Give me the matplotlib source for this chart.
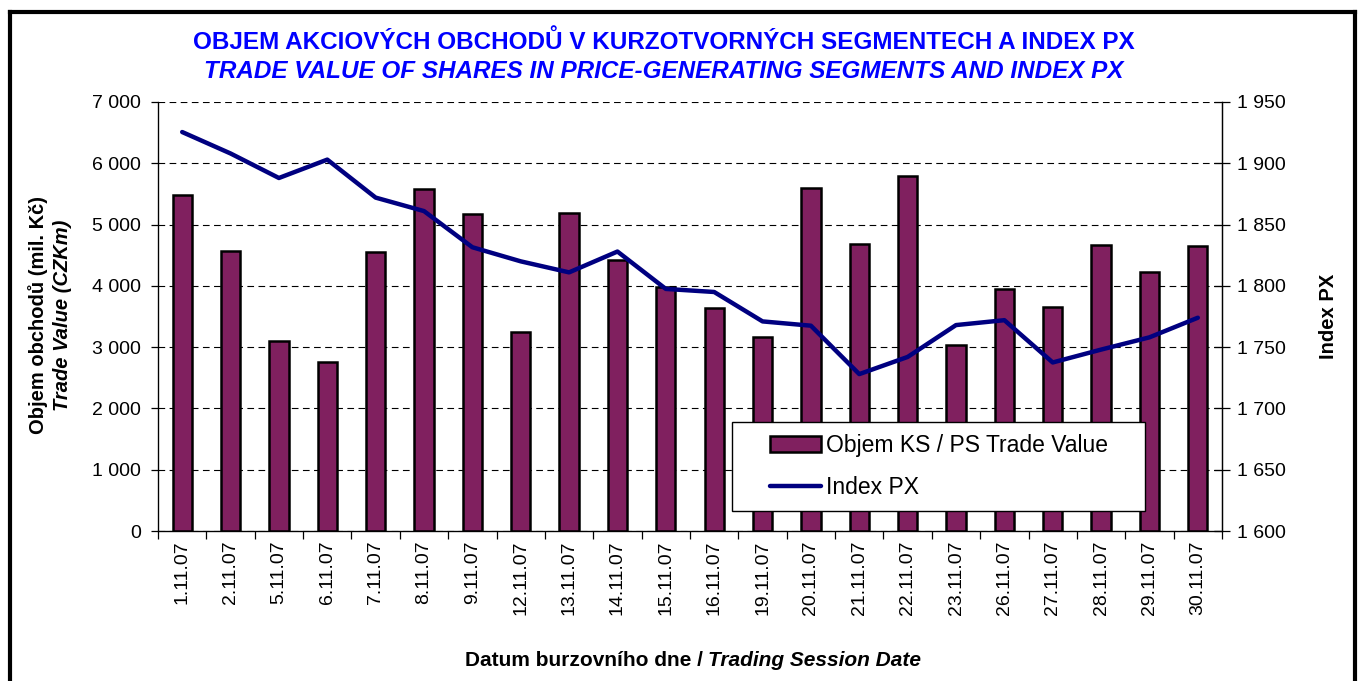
import matplotlib
matplotlib.use('Agg')
import matplotlib.pyplot as plt
from matplotlib.patches import Rectangle, Patch
from matplotlib.lines import Line2D
from matplotlib.ticker import FuncFormatter
import numpy as np

plt.rcParams['font.family'] = ['Liberation Sans', 'DejaVu Sans']

dates = ['1.11.07', '2.11.07', '5.11.07', '6.11.07', '7.11.07', '8.11.07', '9.11.07',
         '12.11.07', '13.11.07', '14.11.07', '15.11.07', '16.11.07', '19.11.07', '20.11.07',
         '21.11.07', '22.11.07', '23.11.07', '26.11.07', '27.11.07', '28.11.07', '29.11.07',
         '30.11.07']
trade_value = [5480, 4570, 3100, 2760, 4550, 5580, 5175, 3250, 5190, 4420, 3980,
               3640, 3170, 5600, 4680, 5785, 3040, 3950, 3655, 4670, 4230, 4650]
index_px = [1925.5, 1908, 1888, 1903, 1872, 1861, 1831.5, 1820, 1811, 1828, 1797.5,
            1795, 1771, 1767.5, 1728, 1742, 1768, 1772, 1737.5, 1748, 1758, 1774]

title1 = 'OBJEM AKCIOVÝCH OBCHODŮ V KURZOTVORNÝCH SEGMENTECH A INDEX PX'
title2 = 'TRADE VALUE OF SHARES IN PRICE-GENERATING SEGMENTS AND INDEX PX'

W, H = 1358, 681
fig = plt.figure(figsize=(W / 100, H / 100), dpi=100)
fig.patch.set_facecolor('white')

ax = fig.add_axes([158 / W, 150 / H, 1064 / W, 429 / H])
x = np.arange(len(dates))
ax.bar(x, trade_value, width=0.4, color='#80205F', edgecolor='black', linewidth=1.8, zorder=3)
ax.set_xlim(-0.5, len(dates) - 0.5)
ax.set_ylim(0, 7000)
ax.set_yticks(np.arange(0, 7001, 1000))
fmt = FuncFormatter(lambda v, p: f'{int(v):,}'.replace(',', ' '))
ax.yaxis.set_major_formatter(fmt)
ax.yaxis.grid(True, linestyle=(0, (6, 4)), color='black', linewidth=0.8)
ax.set_axisbelow(True)
ax.spines['top'].set_visible(False)
for s in ['left', 'bottom', 'right']:
    ax.spines[s].set_linewidth(0.9)
ax.set_xticks(x)
ax.set_xticklabels(dates, rotation=90, fontsize=14)
ax.tick_params(axis='x', which='major', length=0, pad=7)
ax.set_xticks(np.arange(-0.5, len(dates), 1), minor=True)
ax.tick_params(axis='x', which='minor', length=6, direction='out', width=0.9)
ax.tick_params(axis='y', labelsize=14, length=5, direction='out', width=0.9, pad=7)

ax2 = ax.twinx()
ax2.plot(x, index_px, color='#000080', linewidth=3.2, solid_capstyle='round', zorder=4)
ax2.set_ylim(1600, 1950)
ax2.set_yticks(np.arange(1600, 1951, 50))
ax2.yaxis.set_major_formatter(fmt)
ax2.tick_params(axis='y', labelsize=14, length=11, direction='inout', width=0.9, pad=5)
ax2.spines['top'].set_visible(False)
ax2.spines['right'].set_linewidth(0.9)

# legend box
box = Rectangle((0.5395, 0.0473), 0.388, 0.207, transform=ax2.transAxes,
                facecolor='white', edgecolor='black', linewidth=1.0, zorder=6)
ax2.add_patch(box)
handles = [Patch(facecolor='#80205F', edgecolor='black', linewidth=1.8),
           Line2D([0], [0], color='#000080', linewidth=3.2, solid_capstyle='round')]
leg = ax2.legend(handles, ['Objem KS / PS Trade Value', 'Index PX'], loc='upper left',
                 bbox_to_anchor=(0.575, 0.225), frameon=False, fontsize=16.5,
                 borderpad=0, handlelength=2.25, handletextpad=0.2, labelspacing=0.8,
                 borderaxespad=0)
leg.set_zorder(7)

# titles
fig.text(0.5 * (192 + 1135) / W, 1 - 42 / H, title1, color='#0000FF', fontsize=17.5,
         fontweight='bold', ha='center', va='center')
fig.text(0.5 * (192 + 1135) / W, 1 - 72 / H, title2, color='#0000FF', fontsize=17.5,
         fontweight='bold', fontstyle='italic', ha='center', va='center')

# y labels
fig.text(38 / W, 1 - 315 / H, 'Objem obchodů (mil. Kč)', rotation=90, fontsize=14.5,
         fontweight='bold', ha='center', va='center')
fig.text(62 / W, 1 - 315 / H, 'Trade Value (CZKm)', rotation=90, fontsize=14.5,
         fontweight='bold', fontstyle='italic', ha='center', va='center')
fig.text(1328 / W, 1 - 316 / H, 'Index PX', rotation=90, fontsize=14.5,
         fontweight='bold', ha='center', va='center')

# x label composed of two styles
t1 = fig.text(0, 1 - 660 / H, 'Datum burzovního dne /', fontsize=15, fontweight='bold',
              ha='left', va='center')
t2 = fig.text(0, 1 - 660 / H, 'Trading Session Date', fontsize=15, fontweight='bold',
              fontstyle='italic', ha='left', va='center')
fig.canvas.draw()
r = fig.canvas.get_renderer()
w1 = t1.get_window_extent(r).width
w2 = t2.get_window_extent(r).width
gap = 5
total = w1 + gap + w2
start = 693 - total / 2
t1.set_x(start / W)
t2.set_x((start + w1 + gap) / W)

# figure border (top, left, right)
lw = 3.0
fig.add_artist(Line2D([9.5 / W, 9.5 / W], [0, 1 - 11.5 / H], color='black', linewidth=lw,
                      transform=fig.transFigure, solid_capstyle='projecting'))
fig.add_artist(Line2D([1354.5 / W, 1354.5 / W], [0, 1 - 11.5 / H], color='black', linewidth=lw,
                      transform=fig.transFigure, solid_capstyle='projecting'))
fig.add_artist(Line2D([9.5 / W, 1354.5 / W], [1 - 11.5 / H, 1 - 11.5 / H], color='black',
                      linewidth=lw, transform=fig.transFigure, solid_capstyle='projecting'))

fig.savefig('out.png', dpi=100)
